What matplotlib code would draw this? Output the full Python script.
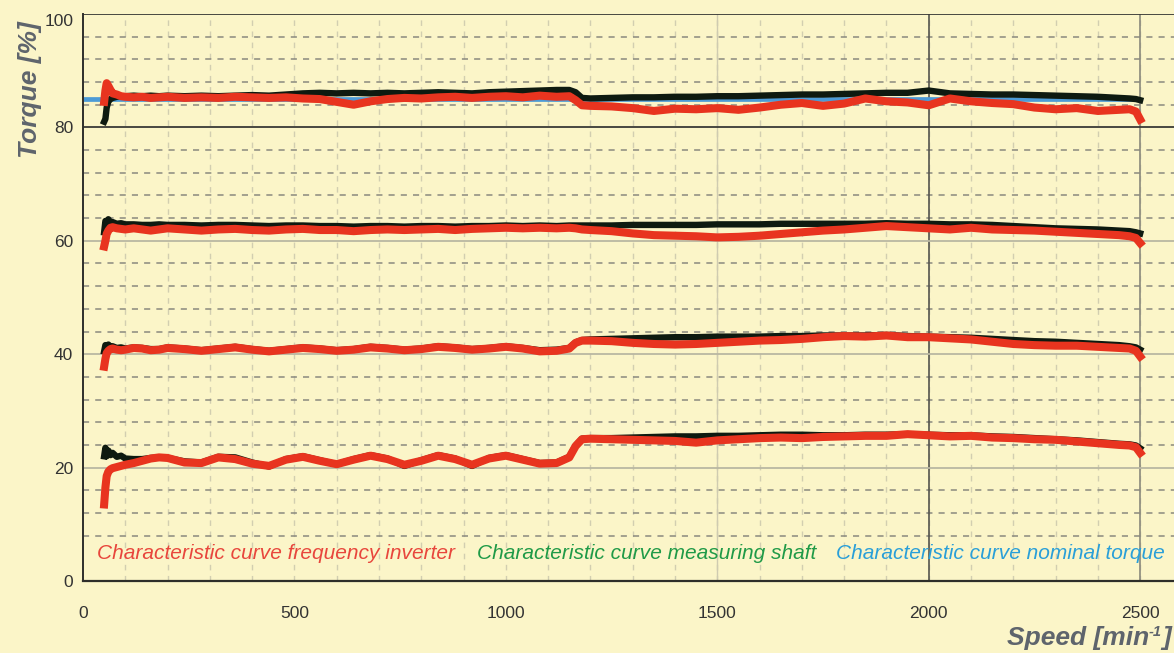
import matplotlib
matplotlib.use('Agg')
import matplotlib.pyplot as plt
import numpy as np

# ---------------- data ----------------
speed = [50, 53, 56, 60, 65, 70, 80, 90, 100, 120, 140, 160, 180, 200,
         240, 280, 320, 360, 400, 440, 480, 520, 560, 600, 640, 680, 720, 760,
         800, 840, 880, 920, 960, 1000, 1040, 1080, 1120, 1150,
         1165, 1180,
         1200, 1250, 1300, 1350, 1400, 1450, 1500, 1550, 1600, 1650, 1700, 1750,
         1800, 1850, 1900, 1950, 2000, 2050, 2100, 2150, 2200, 2250, 2300, 2350,
         2400, 2450,
         2475, 2490, 2500]

inverter_80 = [84.5, 86.5, 87.8, 87.3, 86.6, 86.0, 85.8, 85.5, 85.4, 85.3, 85.4, 85.2, 85.3, 85.4,
               85.2, 85.3, 85.2, 85.4, 85.3, 85.2, 85.3, 85.1, 85.0, 84.5, 84.0, 84.6, 85.0, 85.2,
               85.1, 85.3, 85.4, 85.2, 85.4, 85.5, 85.3, 85.6, 85.4, 85.5,
               84.8, 83.9,
               83.8, 83.7, 83.4, 82.9, 83.3, 83.2, 83.4, 83.1, 83.5, 84.0, 84.3, 83.8,
               84.2, 85.1, 84.6, 84.4, 83.9, 85.1, 84.6, 84.3, 84.1, 83.5, 83.2, 83.4,
               82.9, 83.1,
               83.2, 82.8, 81.4]
shaft_80 = [81.0, 81.5, 83.5, 84.6, 85.0, 85.2, 85.4, 85.5, 85.5, 85.6, 85.5, 85.6, 85.5, 85.6,
            85.5, 85.6, 85.5, 85.6, 85.7, 85.6, 85.8, 86.0, 86.1, 86.0, 86.1, 86.0, 86.1, 86.0,
            86.1, 86.2, 86.1, 86.0, 86.2, 86.3, 86.4, 86.5, 86.6, 86.6,
            86.2, 85.2,
            85.1, 85.2, 85.3, 85.3, 85.4, 85.4, 85.5, 85.5, 85.6, 85.7, 85.8, 85.8,
            85.9, 86.0, 86.1, 86.1, 86.5, 86.0, 85.9, 85.8, 85.8, 85.7, 85.6, 85.5,
            85.4, 85.2,
            85.1, 85.0, 84.8]

inverter_60 = [59.0, 60.0, 61.2, 61.8, 62.3, 62.4, 62.2, 62.1, 62.0, 62.2, 62.0, 61.8, 62.0, 62.2,
               62.0, 61.8, 62.0, 62.1, 61.9, 61.8, 62.0, 62.1, 61.9, 61.9, 61.7, 61.9, 62.0, 61.9,
               62.0, 62.1, 61.9, 62.1, 62.2, 62.3, 62.2, 62.3, 62.2, 62.3,
               62.2, 62.0,
               61.9, 61.7, 61.3, 61.0, 60.9, 60.8, 60.6, 60.7, 60.9, 61.2, 61.5, 61.8,
               62.0, 62.3, 62.6, 62.4, 62.2, 62.0, 62.3, 62.0, 61.9, 61.8, 61.6, 61.4,
               61.2, 61.0,
               60.8, 60.5, 59.6]
shaft_60 = [61.5, 63.5, 63.0, 63.8, 63.2, 63.3, 63.0, 63.1, 62.9, 62.9, 62.8, 62.8, 62.9, 62.8,
            62.8, 62.7, 62.8, 62.8, 62.7, 62.6, 62.7, 62.7, 62.6, 62.6, 62.5, 62.6, 62.6, 62.5,
            62.6, 62.6, 62.5, 62.6, 62.6, 62.7, 62.6, 62.7, 62.6, 62.7,
            62.7, 62.7,
            62.7, 62.7, 62.8, 62.8, 62.8, 62.8, 62.9, 62.9, 62.9, 63.0, 63.0, 63.0,
            63.0, 63.0, 63.1, 63.0, 63.0, 62.9, 62.9, 62.8, 62.6, 62.4, 62.2, 62.1,
            62.0, 61.8,
            61.7, 61.5, 61.3]

inverter_40 = [37.8, 39.2, 40.2, 40.6, 40.9, 41.0, 40.8, 40.7, 40.8, 41.1, 41.0, 40.7, 40.8, 41.1,
               40.9, 40.6, 40.9, 41.2, 40.8, 40.5, 40.8, 41.1, 40.9, 40.6, 40.8, 41.2, 41.0, 40.7,
               40.9, 41.3, 41.1, 40.8, 41.0, 41.3, 41.0, 40.5, 40.6, 41.0,
               42.0, 42.4,
               42.4, 42.3, 42.0, 41.8, 41.7, 41.8, 42.0, 42.2, 42.4, 42.5, 42.7, 43.0,
               43.2, 43.1, 43.3, 43.0, 43.0, 42.8, 42.6, 42.2, 41.8, 41.6, 41.5, 41.5,
               41.3, 41.1,
               41.0, 40.6, 39.6]
shaft_40 = [40.5, 41.6, 41.2, 41.7, 41.3, 41.4, 41.1, 41.2, 41.0, 41.2, 41.1, 40.9, 40.9, 41.2,
            41.0, 40.7, 41.0, 41.3, 40.9, 40.6, 40.9, 41.2, 41.0, 40.7, 40.9, 41.3, 41.1, 40.8,
            41.0, 41.4, 41.2, 40.9, 41.1, 41.4, 41.1, 40.7, 40.8, 41.1,
            42.1, 42.5,
            42.6, 42.7, 42.8, 42.9, 43.0, 43.0, 43.1, 43.1, 43.1, 43.2, 43.2, 43.3,
            43.3, 43.3, 43.4, 43.2, 43.1, 43.0, 42.9, 42.7, 42.5, 42.3, 42.2, 42.0,
            41.8, 41.6,
            41.4, 41.2, 40.8]

inverter_20 = [13.5, 16.5, 18.5, 19.3, 19.7, 19.9, 20.1, 20.3, 20.5, 20.8, 21.2, 21.6, 21.8, 21.7,
               20.9, 20.8, 21.8, 21.5, 20.7, 20.3, 21.4, 21.9, 21.2, 20.6, 21.4, 22.1, 21.5, 20.5,
               21.2, 22.1, 21.5, 20.5, 21.6, 22.1, 21.4, 20.7, 20.8, 21.8,
               23.8, 25.0,
               25.1, 25.0, 24.9, 24.8, 24.7, 24.4, 24.8, 25.0, 25.2, 25.3, 25.2, 25.4,
               25.5, 25.6, 25.6, 25.9, 25.7, 25.5, 25.6, 25.3, 25.2, 25.0, 24.9, 24.6,
               24.3, 24.0,
               23.9, 23.6, 22.6]
shaft_20 = [22.0, 23.5, 22.0, 23.0, 22.2, 22.6, 21.9, 22.1, 21.6, 21.5, 21.5, 21.7, 21.8, 21.7,
            21.1, 20.9, 21.9, 21.8, 20.9, 20.2, 21.5, 22.0, 21.3, 20.6, 21.5, 22.2, 21.6, 20.3,
            21.3, 22.2, 21.6, 20.3, 21.7, 22.2, 21.5, 20.8, 20.9, 21.9,
            23.9, 25.1,
            25.2, 25.2, 25.3, 25.4, 25.5, 25.5, 25.6, 25.6, 25.7, 25.8, 25.8, 25.7,
            25.7, 25.8, 25.8, 25.9, 25.8, 25.7, 25.7, 25.5, 25.4, 25.2, 25.0, 24.8,
            24.5, 24.2,
            24.1, 23.9, 23.4]

nominal_speed = [0, 2500]
nominal_torque = [85, 85]

x_ticks = [0, 500, 1000, 1500, 2000, 2500]
y_ticks = [0, 20, 40, 60, 80, 100]

legend_labels = ['Characteristic curve frequency inverter',
                 'Characteristic curve measuring shaft',
                 'Characteristic curve nominal torque']

# ---------------- style ----------------
BG = '#FBF5C8'
RED = '#E8341F'
BLACK = '#0E1A10'
BLUE = '#4C9BD6'
GREY_TXT = '#5E646C'

plt.rcParams['font.family'] = ['Liberation Sans', 'DejaVu Sans']

fig = plt.figure(figsize=(11.74, 6.53), dpi=100, facecolor=BG)
ax = fig.add_axes([83 / 1174, 1 - 581 / 653, 1 - 83 / 1174, (581 - 14) / 653])
ax.set_facecolor(BG)

ax.set_xlim(0, 2580)
ax.set_ylim(0, 100)

# grid: minor horizontal dashed every 4 (none at 4, where the legend sits)
for v in np.arange(8, 100, 4):
    if v % 20 == 0:
        continue
    ax.axhline(v, color='#8a897e', lw=1.1, ls=(0, (4, 4)), zorder=1)
# major horizontal
for v in y_ticks[1:]:
    c = '#3a3a36' if v in (80, 100) else '#b9b7a2'
    ax.axhline(v, color=c, lw=1.3, zorder=1.2)
# vertical dashed every 100
for v in np.arange(100, 2600, 100):
    ax.axvline(v, color='#d2ceb0', lw=1.0, ls=(0, (4, 4)), zorder=0.9)
ax.axvline(1500, color='#cfcbb0', lw=1.0, zorder=1)
ax.axvline(2000, color='#55554e', lw=1.2, zorder=1)
ax.axvline(2500, color='#8a897c', lw=1.2, zorder=1)

# curves
ax.plot(nominal_speed, nominal_torque, color=BLUE, lw=3.4, zorder=2, solid_capstyle='butt')
for sh in (shaft_80, shaft_60, shaft_40, shaft_20):
    ax.plot(speed, sh, color=BLACK, lw=4.6, zorder=3, solid_joinstyle='round')
for inv in (inverter_80, inverter_60, inverter_40, inverter_20):
    ax.plot(speed, inv, color=RED, lw=5.8, zorder=4, solid_joinstyle='round')

# legend texts inside plot
leg_kw = dict(fontsize=15, style='italic', ha='left', va='center', zorder=5)
ax.text(33, 4.9, legend_labels[0], color='#E8463C', **leg_kw)
ax.text(932, 4.9, legend_labels[1], color='#1F9A47', **leg_kw)
ax.text(1781, 4.9, legend_labels[2], color='#2A9FD8', **leg_kw)

# spines
for s in ('top', 'right'):
    ax.spines[s].set_visible(False)
ax.spines['left'].set_color('#2e2e2a')
ax.spines['bottom'].set_color('#2e2e2a')
ax.spines['left'].set_linewidth(1.4)
ax.spines['bottom'].set_linewidth(1.6)

ax.set_xticks(x_ticks)
ax.set_yticks(y_ticks)
ax.set_xticklabels([str(t) for t in x_ticks])
ax.set_yticklabels([str(t) for t in y_ticks])
ax.tick_params(axis='both', length=0, labelsize=12.5, labelcolor='#333333')
ax.tick_params(axis='x', pad=18)
ax.tick_params(axis='y', pad=7)
ax.get_yticklabels()[-1].set_verticalalignment('top')

# axis labels
fig.text(30 / 1174, 1 - 90 / 653, 'Torque [%]', rotation=90, ha='center', va='center',
         fontsize=19, fontweight='bold', style='italic', color=GREY_TXT)

lab_kw = dict(fontweight='bold', style='italic', color=GREY_TXT, va='baseline')
fig.canvas.draw()
renderer = fig.canvas.get_renderer()
base_y = 1 - 645 / 653
t3 = fig.text(1171 / 1174, base_y, ']', ha='right', fontsize=19, **lab_kw)
bb3 = t3.get_window_extent(renderer)
t2 = fig.text((bb3.x0 - 1) / 1174, base_y + 9 / 653, '-1', ha='right', fontsize=10.5, **lab_kw)
bb2 = t2.get_window_extent(renderer)
fig.text((bb2.x0 + 1) / 1174, base_y, 'Speed [min', ha='right', fontsize=19, **lab_kw)

fig.savefig('out.png', dpi=100, facecolor=BG)
